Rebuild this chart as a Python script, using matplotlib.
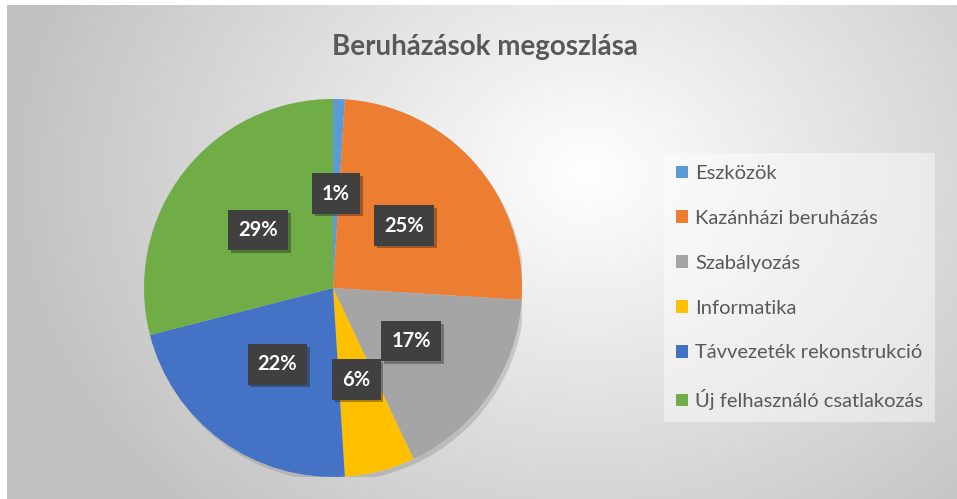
import numpy as np
import matplotlib
matplotlib.use("Agg")
import matplotlib.pyplot as plt
import matplotlib.patheffects as pe
from matplotlib.patches import Circle

plt.rcParams['font.family'] = ['Lato', 'DejaVu Sans']

# data
categories = ["Eszközök", "Kazánházi beruházás", "Szabályozás", "Informatika",
              "Távvezeték rekonstrukció", "Új felhasználó csatlakozás"]
shares = [1, 25, 17, 6, 22, 29]
colors = ['#5B9BD5', '#ED7D31', '#A5A5A5', '#FFC000', '#4472C4', '#70AD47']
title = "Beruházások megoszlása"

W, H = 957, 499
fig = plt.figure(figsize=(W / 100, H / 100), dpi=100)
fig.patch.set_facecolor('white')

# background gradient (radial, light centre)
bg = fig.add_axes([7 / W, 0, 1 - 7 / W, 1 - 5 / H])
yy, xx = np.mgrid[0:H, 0:W - 7]
d = np.sqrt(((xx - 580) / 600.0) ** 2 + ((yy - 170) / 500.0) ** 2)
shade = np.clip(1.0 - 0.25 * d, 0.76, 1.0)
bg.imshow(np.dstack([shade, shade, shade]), aspect='auto', extent=[0, 1, 0, 1])
bg.set_axis_off()

# pie
cx, cy, r = 333, 288, 189
ax = fig.add_axes([(cx - r) / W, (H - cy - r) / H, 2 * r / W, 2 * r / H])
disc = Circle((0, 0), 1.0, facecolor='#cccccc', edgecolor='none', zorder=0)
disc.set_path_effects([pe.SimplePatchShadow(offset=(2, -3), alpha=0.18), pe.Normal()])
ax.add_patch(disc)
wedges, texts, autotexts = ax.pie(
    shares, colors=colors, startangle=90, counterclock=False,
    autopct='%1.0f%%', pctdistance=0.5,
    wedgeprops=dict(linewidth=0, antialiased=True),
    textprops=dict(color='white', fontsize=14.5, fontweight='bold'))
for t in autotexts:
    t.set_bbox(dict(boxstyle='square,pad=0.5', facecolor='#404040', edgecolor='none'))
    t.get_bbox_patch().set_path_effects([pe.SimplePatchShadow(offset=(2, -2), alpha=0.35),
                                         pe.Normal()])
ax.set_xlim(-1, 1)
ax.set_ylim(-1, 1)
ax.set_aspect('equal')
ax.set_axis_off()

fig.text(485 / W, 1 - 47 / H, title, ha='center', va='center',
         fontsize=20, fontweight='bold', color='#595959')

leg = fig.legend(wedges, categories, loc='upper left',
                 bbox_to_anchor=(654 / W, 1 - 143 / H),
                 frameon=True, fontsize=14.5, labelspacing=1.38,
                 handlelength=0.6, handleheight=0.6, handletextpad=0.35,
                 borderpad=0.6, labelcolor='#595959')
leg.get_frame().set_facecolor('white')
leg.get_frame().set_alpha(0.45)
leg.get_frame().set_edgecolor('none')
leg.get_frame().set_boxstyle('square', pad=0)

fig.savefig('out.png', dpi=100)
